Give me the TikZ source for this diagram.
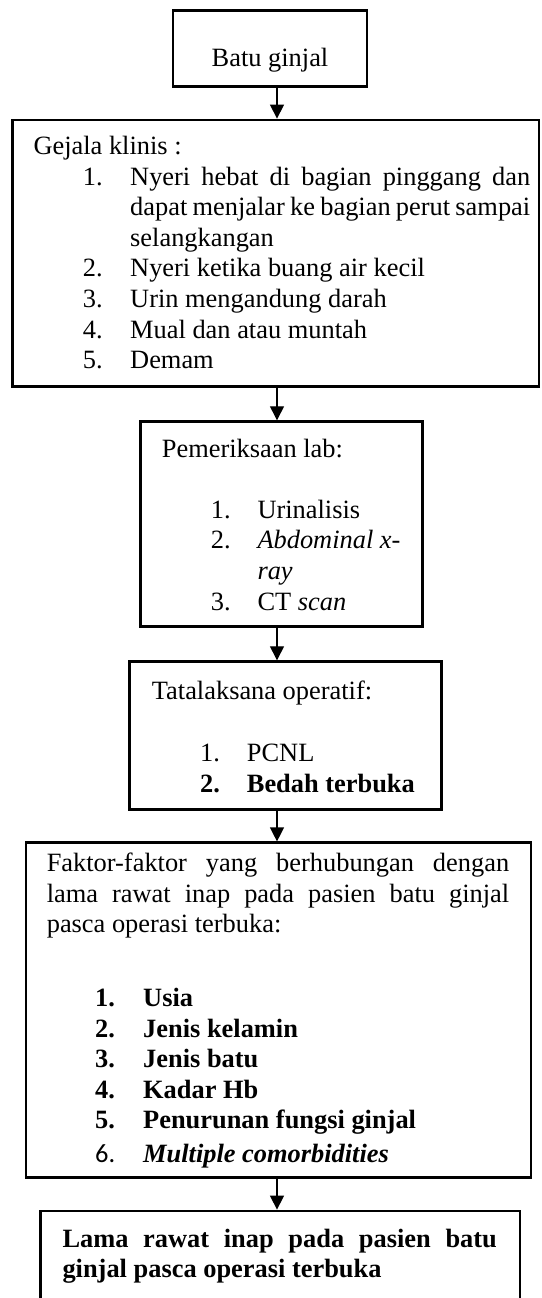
\documentclass[tikz,border=0pt]{standalone}
\usepackage{fontspec}
\setmainfont{Liberation Serif}
\newfontfamily\numsans{Carlito}
\usetikzlibrary{arrows.meta}
\begin{document}
\begin{tikzpicture}[x=1pt,y=-1pt,
  box/.style={draw, line width=2.8pt, inner sep=0pt},
  conn/.style={line width=1.3pt, -{Triangle[width=14pt,length=14pt]}},
  txt/.style={anchor=base west, inner sep=0pt, font=\fontsize{26.4}{30.6}\selectfont}]
\useasboundingbox (0,0) rectangle (541,1298);
\clip (0,0) rectangle (541,1298);
% boxes
\node[box, minimum width=194pt, minimum height=76pt] (b1) at (270,48.3) {};
\node[box, minimum width=526.3pt, minimum height=266.7pt] (b2) at (275.85,253.35) {};
\node[box, minimum width=282pt, minimum height=205pt] (b3) at (281.7,524.2) {};
\node[box, minimum width=312.4pt, minimum height=147.6pt] (b4) at (285.5,735.5) {};
\node[box, minimum width=505pt, minimum height=334.5pt] (b5) at (278.5,1010.05) {};
\node[box, minimum width=479.3pt, minimum height=120pt] (b6) at (280.35,1271) {};
% connectors
\coordinate (ax) at (277,0);
\draw[conn] (b1.south -| ax) -- (b2.north -| ax);
\draw[conn] (b2.south -| ax) -- (b3.north -| ax);
\draw[conn] (b3.south -| ax) -- (b4.north -| ax);
\draw[conn] (b4.south -| ax) -- (b5.north -| ax);
\draw[conn] (b5.south -| ax) -- (b6.north -| ax);
% box 1
\node[txt, anchor=base] (t1) at (270,66.5) {Batu ginjal};
% box 2
\node[txt] (t2h) at (33.3,154.3) {Gejala klinis :};
\node[txt] (n21) at (82.7,185) {1.};
\node[txt] (t21a) at (130,185) {\makebox[400pt][s]{Nyeri hebat di bagian pinggang dan}};
\node[txt] (t21b) at (130,215.6) {\makebox[400pt][s]{dapat menjalar ke bagian perut sampai}};
\node[txt] (t21c) at (130,246.2) {selangkangan};
\node[txt] (n22) at (82.7,276.8) {2.};
\node[txt] (t22) at (130,276.8) {Nyeri ketika buang air kecil};
\node[txt] (n23) at (82.7,307.4) {3.};
\node[txt] (t23) at (130,307.4) {Urin mengandung darah};
\node[txt] (n24) at (82.7,338) {4.};
\node[txt] (t24) at (130,338) {Mual dan atau muntah};
\node[txt] (n25) at (82.7,368.6) {5.};
\node[txt] (t25) at (130,368.6) {Demam};
% box 3
\node[txt] (t3h) at (161.7,457.3) {Pemeriksaan lab:};
\node[txt] (n31) at (210.7,518.3) {1.};
\node[txt] (t31) at (257.3,518.3) {Urinalisis};
\node[txt] (n32) at (210.7,548.9) {2.};
\node[txt] (t32a) at (257.3,548.9) {\textit{Abdominal x-}};
\node[txt] (t32b) at (257.3,579.5) {\textit{ray}};
\node[txt] (n33) at (210.7,610.1) {3.};
\node[txt] (t33) at (257.3,610.1) {CT \textit{scan}};
% box 4
\node[txt] (t4h) at (151.7,699.3) {Tatalaksana operatif:};
\node[txt] (n41) at (200,761.7) {1.};
\node[txt] (t41) at (246.7,761.7) {PCNL};
\node[txt] (n42) at (200,792.3) {\textbf{2.}};
\node[txt] (t42) at (246.7,792.3) {\textbf{Bedah terbuka}};
% box 5
\node[txt] (t5a) at (46.6,871.5) {\makebox[462.4pt][s]{Faktor-faktor yang berhubungan dengan}};
\node[txt] (t5b) at (46.6,902.1) {\makebox[462.4pt][s]{lama rawat inap pada pasien batu ginjal}};
\node[txt] (t5c) at (46.6,932.7) {pasca operasi terbuka:};
\node[txt] (n51) at (95,1006.5) {\textbf{1.}};
\node[txt] (t51) at (143,1006.5) {\textbf{Usia}};
\node[txt] (n52) at (95,1037.1) {\textbf{2.}};
\node[txt] (t52) at (143,1037.1) {\textbf{Jenis kelamin}};
\node[txt] (n53) at (95,1067.7) {\textbf{3.}};
\node[txt] (t53) at (143,1067.7) {\textbf{Jenis batu}};
\node[txt] (n54) at (95,1098.3) {\textbf{4.}};
\node[txt] (t54) at (143,1098.3) {\textbf{Kadar Hb}};
\node[txt] (n55) at (95,1128.9) {\textbf{5.}};
\node[txt] (t55) at (143,1128.9) {\textbf{Penurunan fungsi ginjal}};
\node[txt] (n56) at (95,1162) {\numsans 6.};
\node[txt] (t56) at (143,1162) {\textbf{\textit{Multiple comorbidities}}};
% box 6
\node[txt] (t6a) at (62.3,1247.3) {\bfseries\makebox[434.4pt][s]{Lama rawat inap pada pasien batu}};
\node[txt] (t6b) at (62.3,1277.5) {\textbf{ginjal pasca operasi terbuka}};
\end{tikzpicture}
\end{document}
